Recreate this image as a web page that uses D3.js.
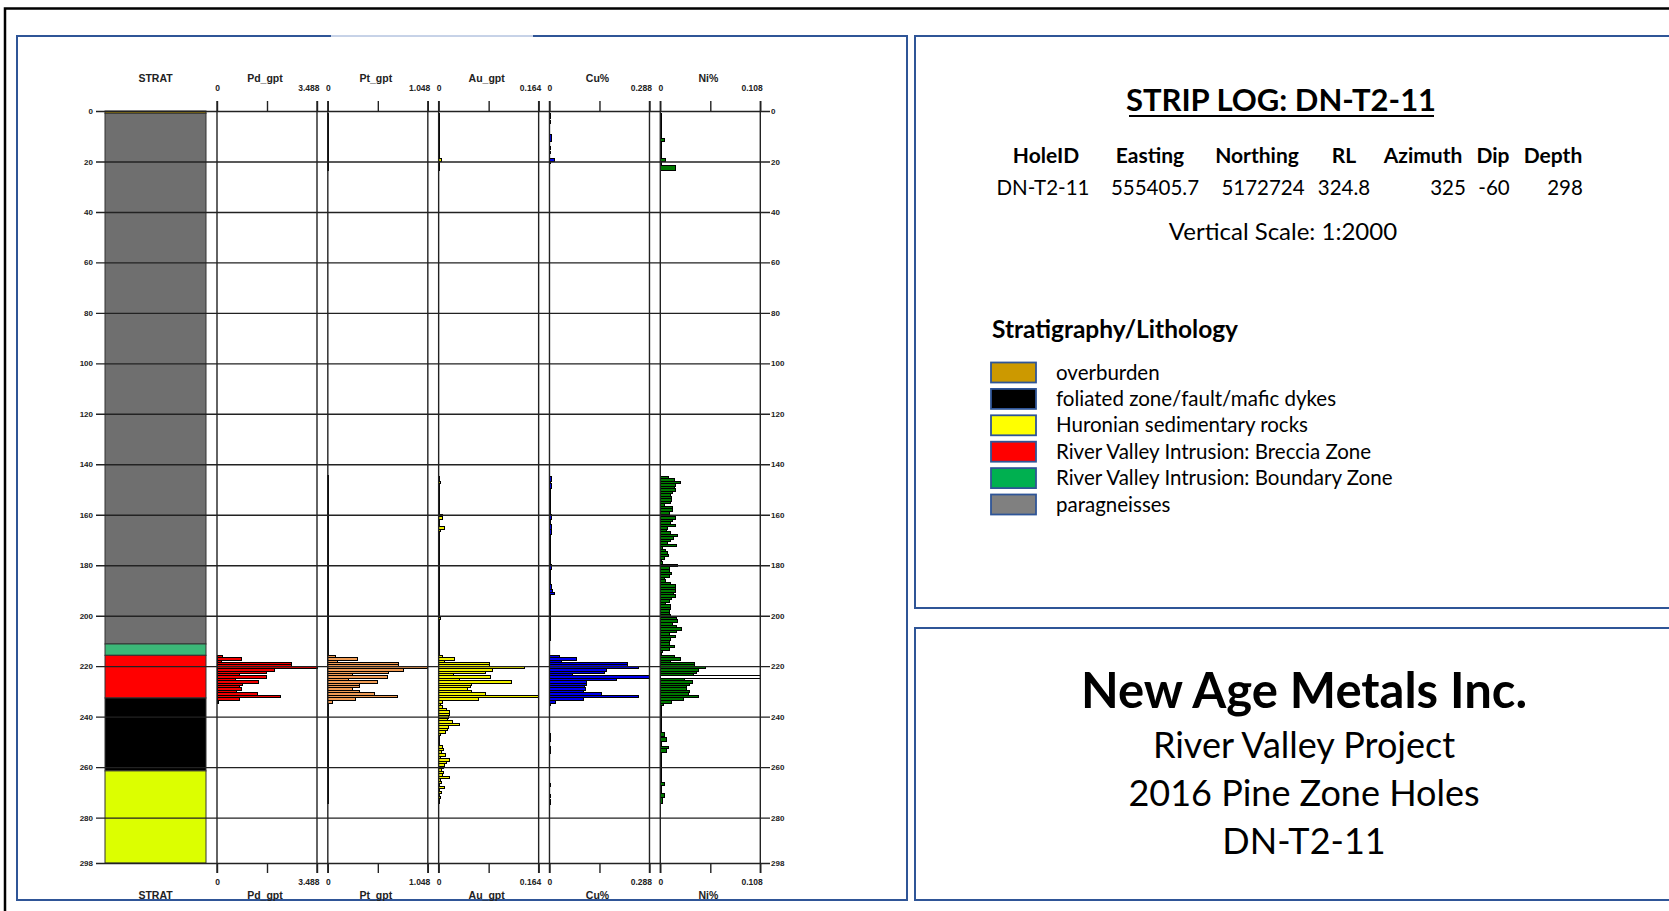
<!DOCTYPE html>
<html>
<head>
<meta charset="utf-8">
<script src="https://cdn.jsdelivr.net/npm/d3@7"></script>
<style>
  body { margin: 0; background: #fff; }
  svg { display: block; }
</style>
</head>
<body>
<script>
// ---------------- data ----------------
const depthTicks = [0, 20, 40, 60, 80, 100, 120, 140, 160, 180, 200, 220, 240, 260, 280, 298];
const tracks = ["Pd_gpt", "Pt_gpt", "Au_gpt", "Cu%", "Ni%"];
const trackMax = [3.488, 1.048, 0.164, 0.288, 0.108];
const trackMaxLabels = ["3.488", "1.048", "0.164", "0.288", "0.108"];

// strat log (metres down hole)
const stratFrom = [0, 0.9, 211.2, 215.7, 232.6, 261.5];
const stratTo = [0.9, 211.2, 215.7, 232.6, 261.5, 298];
const stratUnit = ["overburden", "paragneisses", "River Valley Intrusion: Boundary Zone",
  "River Valley Intrusion: Breccia Zone", "foliated zone/fault/mafic dykes", "Huronian sedimentary rocks"];

const legendUnits = ["overburden", "foliated zone/fault/mafic dykes", "Huronian sedimentary rocks",
  "River Valley Intrusion: Breccia Zone", "River Valley Intrusion: Boundary Zone", "paragneisses"];

// mineralised zone samples (shared breaks)
const zoneBreaks = [215.7, 216.7, 217.7, 218.5, 219.3, 220.1, 221.0, 222.0, 223.0, 223.8, 224.7,
  225.6, 226.7, 227.6, 228.6, 229.6, 230.6, 231.5, 232.6, 233.6, 234.6];
const pdZone = [0.2, 0.86, 0.15, 2.6, 2.6, 3.488, 2.0, 1.73, 0.78, 1.73, 0.63, 1.44, 0.9, 0.78, 0.86, 0.69, 1.4, 2.22, 0.8, 0.05];
const ptZone = [0.076, 0.31, 0.1, 0.74, 0.74, 1.048, 0.79, 0.64, 0.26, 0.63, 0.22, 0.52, 0.33, 0.33, 0.26, 0.33, 0.49, 0.73, 0.29, 0.05];
const auZone = [0.0065, 0.026, 0.01, 0.083, 0.083, 0.14, 0.088, 0.077, 0.024, 0.085, 0.035, 0.119, 0.054, 0.052, 0.047, 0.054, 0.077, 0.164, 0.065, 0.0065];
const cuZone = [0.029, 0.077, 0.034, 0.226, 0.226, 0.257, 0.164, 0.159, 0.067, 0.288, 0.193, 0.108, 0.106, 0.101, 0.104, 0.098, 0.151, 0.255, 0.098, 0.017];
const niZone = [0.0157, 0.022, 0.011, 0.037, 0.037, 0.049, 0.041, 0.039, 0.036, 0.21, 0.026, 0.035, 0.031, 0.028, 0.028, 0.032, 0.030, 0.041, 0.025, 0.012];

// other intervals as [from, to, value]
const ptRuns = [[0.9, 23.4, 0.012], [144.4, 215.7, 0.012], [234.6, 274.4, 0.012]];
const auRuns = [[0.9, 18.7, 0.002], [18.7, 20, 0.004], [20, 23.4, 0.002],
  [144.7, 146.7, 0.002], [146.7, 147.7, 0.003], [147.7, 159.7, 0.002], [159.7, 160.7, 0.006],
  [160.7, 161.7, 0.007], [161.7, 162.7, 0.002], [162.7, 164.7, 0.002], [164.7, 165.7, 0.009],
  [165.7, 166.7, 0.003], [166.7, 167.7, 0.002], [167.7, 200.7, 0.002], [200.7, 201.7, 0.003],
  [201.7, 215.7, 0.002]];
const cuRuns = [[0.9, 2.8, 0.003], [3.8, 5.1, 0.003], [9.5, 12.2, 0.006], [14.1, 15.4, 0.002],
  [16.0, 16.8, 0.002], [18.7, 20.0, 0.014], [20.0, 20.7, 0.002],
  [144.7, 146.7, 0.006], [146.7, 147.7, 0.004], [147.7, 149.7, 0.006], [149.7, 151.7, 0.003],
  [151.7, 153.7, 0.003], [153.7, 155.7, 0.004], [155.7, 157.7, 0.003], [157.7, 159.7, 0.003],
  [159.7, 161.7, 0.006], [161.7, 163.7, 0.004], [163.7, 165.7, 0.005], [165.7, 167.7, 0.006],
  [167.7, 172.7, 0.003], [172.7, 175.7, 0.002], [175.7, 177.7, 0.004], [177.7, 179.7, 0.002],
  [179.7, 181.7, 0.006], [181.7, 183.7, 0.003], [183.7, 185.7, 0.004], [185.7, 187.7, 0.003],
  [187.7, 189.7, 0.006], [189.7, 190.7, 0.008], [190.7, 191.7, 0.015], [191.7, 193.7, 0.004],
  [193.7, 199.7, 0.003], [199.7, 203.7, 0.003], [203.7, 209.7, 0.003],
  [234.6, 235.6, 0.004], [246.7, 249.7, 0.002], [251.7, 254.7, 0.002], [266.6, 267.6, 0.002],
  [270.7, 272.2, 0.002], [272.7, 274.7, 0.002]];
const niRuns = [[0.9, 10.8, 0.0015], [10.8, 12.1, 0.005], [12.1, 18.7, 0.0015], [18.7, 20, 0.006],
  [20, 21.4, 0.0015], [21.4, 23.4, 0.016],
  [234.6, 235.6, 0.003], [235.6, 246.4, 0.0015], [246.4, 247.7, 0.004], [247.7, 248.4, 0.0015],
  [248.4, 249.7, 0.007], [249.7, 251.7, 0.0015], [251.7, 252.8, 0.009], [252.8, 254.1, 0.007],
  [254.1, 266, 0.0015], [266, 267.3, 0.004], [267.3, 270.6, 0.0015], [270.6, 271.9, 0.004],
  [271.9, 274.6, 0.002]];

// 1 m samples
const niUpperStart = 144.7;
const niUpper = [0.0086, 0.0157, 0.022, 0.016, 0.015, 0.016, 0.013, 0.011, 0.012, 0.012,
  0.011, 0.005, 0.013, 0.013, 0.010, 0.010, 0.016, 0.013, 0.011, 0.016,
  0.0075, 0.007, 0.011, 0.019, 0.014, 0.011, 0.0075, 0.0175, 0.0025, 0.006,
  0.0075, 0.0086, 0.004, 0.0014, 0.002, 0.019, 0.010, 0.010, 0.012, 0.010,
  0.004, 0.006, 0.011, 0.016, 0.016, 0.016, 0.014, 0.016, 0.012, 0.010,
  0.006, 0.011, 0.011, 0.010, 0.010, 0.011, 0.017, 0.019, 0.013, 0.0175,
  0.023, 0.018, 0.010, 0.016, 0.011, 0.010, 0.010, 0.015, 0.010, 0.0025, 0.0014];
const auLowerStart = 234.6;
const auLower = [0.003, 0.0065, 0.013, 0.017, 0.018, 0.016, 0.014, 0.023, 0.034, 0.016,
  0.014, 0.012, 0.003, 0.002, 0.002, 0.002, 0.002, 0.0065, 0.0076, 0.005,
  0.011, 0.003, 0.017, 0.013, 0.010, 0.0076, 0.005, 0.0076, 0.0065, 0.018,
  0.003, 0.005, 0.002, 0.010, 0.002, 0.005, 0.002, 0.003, 0.002, 0.002];

// hole info
const holeHeaders = ["HoleID", "Easting", "Northing", "RL", "Azimuth", "Dip", "Depth"];
const holeValues = ["DN-T2-11", "555405.7", "5172724", "324.8", "325", "-60", "298"];
const titleLines = ["River Valley Project", "2016 Pine Zone Holes", "DN-T2-11"];

// ---------------- styles ----------------
const trackColors = ["#f00000", "#f09c55", "#f0f000", "#0000ee", "#007800"];
const stratColors = ["#c8a000", "#6f6f6f", "#3cb878", "#ff0000", "#000000", "#dcff00"];
const legendColors = ["#cc9900", "#000000", "#ffff00", "#ff0000", "#00b050", "#808080"];
const panelBlue = "#2f5597";
const lineCol = "#222";
const logFont = "'Liberation Sans', Arial, sans-serif";
const textFont = "Lato, 'Open Sans', sans-serif";

// ---------------- build ----------------
const svg = d3.select("body").append("svg").attr("width", 1669).attr("height", 911);
svg.append("rect").attr("width", 1669).attr("height", 911).attr("fill", "#fff");

// outer black frame
svg.append("path").attr("d", "M5,911 V8.5 H1669").attr("fill", "none")
  .attr("stroke", "#000").attr("stroke-width", 2.5);

// panels
svg.append("path").attr("d", "M331,36 H17 V900 H907 V36 H533").attr("fill", "none")
  .attr("stroke", panelBlue).attr("stroke-width", 2);
svg.append("line").attr("x1", 331).attr("x2", 533).attr("y1", 36).attr("y2", 36)
  .attr("stroke", "#8fa6d0").attr("stroke-width", 1);
svg.append("rect").attr("x", 915).attr("y", 36).attr("width", 800).attr("height", 572)
  .attr("fill", "none").attr("stroke", panelBlue).attr("stroke-width", 2);
svg.append("rect").attr("x", 915).attr("y", 628).attr("width", 800).attr("height", 272)
  .attr("fill", "none").attr("stroke", panelBlue).attr("stroke-width", 2);

// ---- strip log ----
const y = d3.scaleLinear().domain([0, 298]).range([111, 863]);
const gridLeft = 96, gridRight = 770;
const trackLeft = d3.scalePoint().domain(tracks).range([217, 660.3]);
const trackWidth = 100;
const stratX = d3.scaleLinear().domain([0, 1]).range([105, 206]);

const log = svg.append("g");

// strat column
log.append("g").selectAll("rect").data(stratUnit).join("rect")
  .attr("x", stratX(0)).attr("width", stratX(1) - stratX(0))
  .attr("y", (d, i) => y(stratFrom[i]))
  .attr("height", (d, i) => y(stratTo[i]) - y(stratFrom[i]))
  .attr("fill", (d, i) => stratColors[i])
  .attr("stroke", "#333").attr("stroke-width", 1);

function zoneSamples(vals) { return vals.map((v, i) => [zoneBreaks[i], zoneBreaks[i + 1], v]); }
function metreSamples(start, vals) { return vals.map((v, i) => [start + i, start + i + 1, v]); }

const trackSamples = [
  zoneSamples(pdZone),
  ptRuns.concat(zoneSamples(ptZone)),
  auRuns.concat(zoneSamples(auZone), metreSamples(auLowerStart, auLower)),
  cuRuns.concat(zoneSamples(cuZone)),
  niRuns.concat(metreSamples(niUpperStart, niUpper), zoneSamples(niZone))
];

tracks.forEach((name, t) => {
  const x0 = trackLeft(name);
  const xs = d3.scaleLinear().domain([0, trackMax[t]]).range([x0, x0 + trackWidth]).clamp(true);

  // bars
  log.append("g").attr("shape-rendering", "crispEdges")
    .selectAll("rect").data(trackSamples[t]).join("rect")
    .attr("x", x0)
    .attr("y", d => y(d[0]))
    .attr("width", d => xs(d[2]) - x0)
    .attr("height", d => y(d[1]) - y(d[0]))
    .attr("fill", d => d[2] > trackMax[t] ? "#fff" : trackColors[t])
    .attr("stroke", "#000").attr("stroke-width", 1);

  // top & bottom scales
  const fmt = (d, i) => i === 0 ? "0" : (i === 2 ? trackMaxLabels[t] : "");
  const top = log.append("g").attr("transform", `translate(0,${y(0)})`)
    .call(d3.axisTop(xs).tickValues([0, trackMax[t] / 2, trackMax[t]]).tickSize(10).tickPadding(10).tickFormat(fmt));
  const bot = log.append("g").attr("transform", `translate(0,${y(298)})`)
    .call(d3.axisBottom(xs).tickValues([0, trackMax[t] / 2, trackMax[t]]).tickSize(10).tickPadding(6).tickFormat(fmt));
  [top, bot].forEach(ax => {
    ax.select(".domain").remove();
    ax.selectAll("line").attr("stroke", lineCol).attr("stroke-width", 1.4);
    ax.selectAll("text").attr("font-family", logFont).attr("font-weight", "bold")
      .attr("font-size", 8.5).attr("fill", "#222")
      .filter((d, i) => i === 2).attr("text-anchor", "end").attr("dx", 2);
  });

  // titles
  log.append("text").attr("x", x0 + trackWidth / 2 - 2).attr("y", 82).text(name);
  log.append("text").attr("x", x0 + trackWidth / 2 - 2).attr("y", 899).text(name);

  // track boundary lines
  log.append("g").selectAll("line").data([0, trackMax[t]]).join("line")
    .attr("x1", d => xs(d)).attr("x2", d => xs(d))
    .attr("y1", y(0) - 10).attr("y2", y(298) + 10)
    .attr("stroke", lineCol).attr("stroke-width", 1.4);
});

log.append("text").attr("x", (stratX(0) + stratX(1)) / 2).attr("y", 82).text("STRAT");
log.append("text").attr("x", (stratX(0) + stratX(1)) / 2).attr("y", 899).text("STRAT");
log.selectAll(":scope > text").attr("text-anchor", "middle").attr("font-family", logFont)
  .attr("font-weight", "bold").attr("font-size", 10.5).attr("fill", "#222");

// depth grid + labels
const leftAx = log.append("g").attr("transform", `translate(${gridLeft},0)`)
  .call(d3.axisLeft(y).tickValues(depthTicks).tickSize(-(gridRight - gridLeft)).tickPadding(3));
const rightAx = log.append("g").attr("transform", `translate(${gridRight},0)`)
  .call(d3.axisRight(y).tickValues(depthTicks).tickSize(0).tickPadding(1));
[leftAx, rightAx].forEach(ax => {
  ax.select(".domain").remove();
  ax.selectAll("line").attr("stroke", lineCol).attr("stroke-width", 1.4);
  ax.selectAll("text").attr("font-family", logFont).attr("font-weight", "bold")
    .attr("font-size", 8).attr("fill", "#222");
});

// ---- hole info panel ----
const info = svg.append("g").attr("font-family", textFont).attr("fill", "#000");
info.append("text").attr("x", 1281).attr("y", 111).attr("text-anchor", "middle")
  .attr("font-weight", "bold").attr("font-size", 31).text("STRIP LOG: DN-T2-11");
info.append("line").attr("x1", 1129).attr("x2", 1434).attr("y1", 116).attr("y2", 116)
  .attr("stroke", "#000").attr("stroke-width", 2);

const headX = d3.scaleOrdinal(holeHeaders, [1046, 1150, 1257, 1344, 1423, 1493, 1553]);
const valX = d3.scaleOrdinal(holeHeaders, [1043, 1155, 1263, 1344, 1448, 1494, 1565]);
info.append("g").selectAll("text").data(holeHeaders).join("text")
  .attr("x", d => headX(d)).attr("y", 163).attr("text-anchor", "middle")
  .attr("font-weight", "bold").attr("font-size", 21).text(d => d);
info.append("g").selectAll("text").data(holeValues).join("text")
  .attr("x", (d, i) => valX(holeHeaders[i])).attr("y", 195).attr("text-anchor", "middle")
  .attr("font-size", 20.5).text(d => d);
info.append("text").attr("x", 1283).attr("y", 240).attr("text-anchor", "middle")
  .attr("font-size", 24).text("Vertical Scale: 1:2000");

info.append("text").attr("x", 992).attr("y", 338).attr("font-weight", "bold")
  .attr("font-size", 24.5).text("Stratigraphy/Lithology");

const legY = d3.scalePoint().domain(legendUnits).range([372.5, 504.5]);
const leg = info.append("g").selectAll("g").data(legendUnits).join("g")
  .attr("transform", d => `translate(0,${legY(d)})`);
leg.append("rect").attr("x", 991).attr("y", -10).attr("width", 45).attr("height", 20)
  .attr("fill", (d, i) => legendColors[i]).attr("stroke", panelBlue).attr("stroke-width", 1.8);
leg.append("text").attr("x", 1056).attr("y", 7).attr("font-size", 20.5).text(d => d);

// ---- company panel ----
info.append("text").attr("x", 1304).attr("y", 708).attr("text-anchor", "middle")
  .attr("font-weight", "bold").attr("font-size", 49).text("New Age Metals Inc.");
const subY = d3.scalePoint().domain(titleLines).range([758, 854]);
info.append("g").selectAll("text").data(titleLines).join("text")
  .attr("x", 1304).attr("y", d => subY(d)).attr("text-anchor", "middle")
  .attr("font-size", 36).text(d => d);
</script>
</body>
</html>
